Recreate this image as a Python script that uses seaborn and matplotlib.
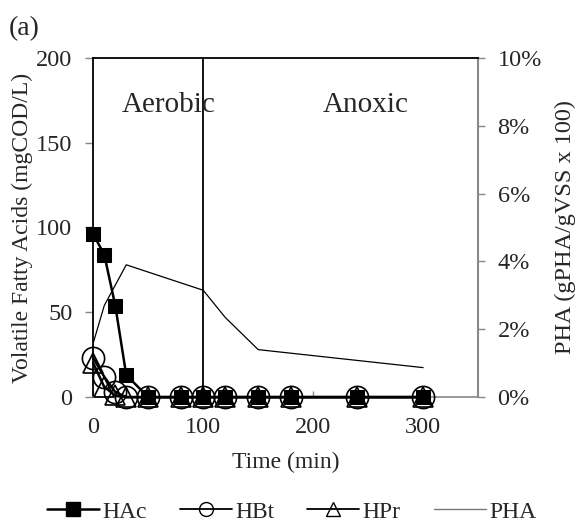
import matplotlib
matplotlib.use("Agg")
import matplotlib.pyplot as plt
import seaborn as sns
import pandas as pd
from matplotlib.lines import Line2D
from matplotlib.ticker import FuncFormatter

sns.set_theme(style="white")
plt.rcParams['font.family'] = ['Liberation Serif', 'DejaVu Serif']

time_vfa = [0, 10, 20, 30, 50, 80, 100, 120, 150, 180, 240, 300]
hac = [96, 84, 54, 13, 0, 0, 0, 0, 0, 0, 0, 0]
hbt = [23, 12, 3, 0, 0, 0, 0, 0, 0, 0, 0, 0]
hpr = [20, 6, 1, 0, 0, 0, 0, 0, 0, 0, 0, 0]
time_pha = [0, 10, 30, 100, 120, 150, 300]
pha = [0.016, 0.027, 0.039, 0.0315, 0.0235, 0.014, 0.0087]

x_ticks = [0, 100, 200, 300]
y_ticks = [0, 50, 100, 150, 200]
y2_ticks = [0, 0.02, 0.04, 0.06, 0.08, 0.10]

df = pd.DataFrame({"Time": time_vfa, "HAc": hac, "HBt": hbt, "HPr": hpr})
dfp = pd.DataFrame({"Time": time_pha, "PHA": pha})

fig = plt.figure(figsize=(5.83, 5.26), dpi=100)
ax = fig.add_axes([0.16, 0.245, 0.66, 0.645])
ax2 = ax.twinx()

sns.lineplot(data=dfp, x="Time", y="PHA", ax=ax2, color="black", lw=0.9, zorder=1)

sns.lineplot(data=df, x="Time", y="HBt", ax=ax, color="black", lw=1.8, marker="o",
             markersize=16, markerfacecolor="none", markeredgecolor="black",
             markeredgewidth=1.2, clip_on=False, zorder=3)
sns.lineplot(data=df, x="Time", y="HPr", ax=ax, color="black", lw=1.8, marker="^",
             markersize=15, markerfacecolor="none", markeredgecolor="black",
             markeredgewidth=1.2, clip_on=False, zorder=4)
sns.lineplot(data=df, x="Time", y="HAc", ax=ax, color="black", lw=1.8, marker="s",
             markersize=10.5, markerfacecolor="black", markeredgecolor="black",
             clip_on=False, zorder=5)

ax.set_zorder(ax2.get_zorder() + 1)
ax.patch.set_visible(False)

ax.axvline(100, color="black", lw=1.3, zorder=2)

ax.set_xlim(0, 350)
ax.set_ylim(0, 200)
ax2.set_ylim(0, 0.10)
ax.set_xticks(x_ticks)
ax.set_yticks(y_ticks)
ax2.set_yticks(y2_ticks)
ax2.yaxis.set_major_formatter(FuncFormatter(lambda v, p: f"{v*100:.0f}%"))

for a in (ax, ax2):
    for s in a.spines.values():
        s.set_visible(False)
ax.spines["left"].set_visible(True)
ax.spines["left"].set_color("black")
ax.spines["left"].set_linewidth(1.3)
ax.spines["top"].set_visible(True)
ax.spines["top"].set_color("black")
ax.spines["top"].set_linewidth(1.3)
ax.spines["bottom"].set_visible(True)
ax.spines["bottom"].set_color("#888888")
ax.spines["bottom"].set_linewidth(1.2)
ax2.spines["right"].set_visible(True)
ax2.spines["right"].set_color("#888888")
ax2.spines["right"].set_linewidth(1.5)

ax.tick_params(axis="y", direction="out", length=6, color="#888888", width=1, labelsize=17.5, pad=9, left=True)
ax.tick_params(axis="x", direction="in", length=4, color="#888888", width=1, labelsize=17.5, pad=14, bottom=True)
ax2.tick_params(axis="y", direction="out", length=5, color="#888888", width=1, labelsize=17.5, pad=9, right=True)

ax.set_xlabel("Time (min)", fontsize=17, labelpad=10)
ax.set_ylabel("Volatile Fatty Acids (mgCOD/L)", fontsize=17, labelpad=2)
ax2.set_ylabel("PHA (gPHA/gVSS x 100)", fontsize=17.5, labelpad=9)

ax.text(26, 172, "Aerobic", fontsize=21, va="center", ha="left")
ax.text(209, 172, "Anoxic", fontsize=21, va="center", ha="left")
fig.text(0.015, 0.945, "(a)", fontsize=20, ha="left", va="center")

handles = [
    Line2D([], [], color="black", lw=1.8, marker="s", markersize=10, markerfacecolor="black"),
    Line2D([], [], color="black", lw=1.3, marker="o", markersize=10, markerfacecolor="none"),
    Line2D([], [], color="black", lw=1.3, marker="^", markersize=10, markerfacecolor="none"),
    Line2D([], [], color="#777777", lw=1.0),
]
fig.legend(handles, ["HAc", "HBt", "HPr", "PHA"], loc="center", bbox_to_anchor=(0.5, 0.027),
           ncol=4, frameon=False, fontsize=17, handlelength=2.2, handletextpad=0.15,
           columnspacing=1.4)

fig.savefig("out.png", dpi=100)
